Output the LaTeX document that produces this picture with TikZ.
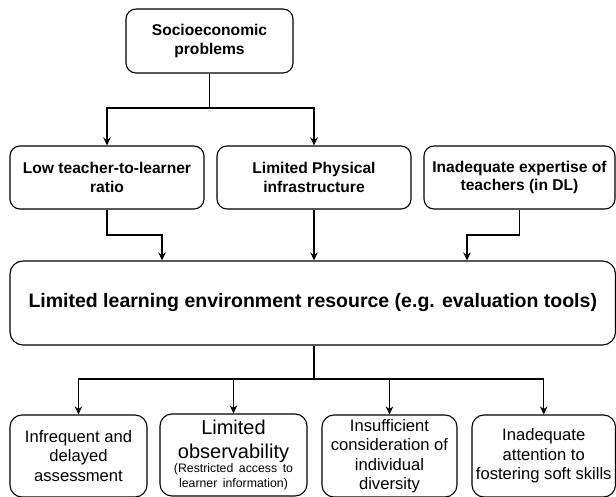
\documentclass[tikz,border=0pt]{standalone}
\usepackage{fontspec}
\setmainfont{Liberation Sans}
\usetikzlibrary{arrows.meta}
\begin{document}
\begin{tikzpicture}[x=1pt,y=-1pt,
  box/.style={draw, line width=1.1pt, rounded corners=10pt, inner sep=0pt, align=center},
  hd/.style={box, font=\bfseries\fontsize{15.6}{18.5}\selectfont, minimum height=63pt},
  lf/.style={box, rounded corners=12pt, font=\fontsize{16.6}{19.5}\selectfont, minimum height=82pt},
  arr/.style={line width=1.1pt, -{Stealth[length=8pt,width=7.5pt,inset=2.5pt]}},
  ln/.style={line width=1.1pt}]
\useasboundingbox (0,0) rectangle (616,497);

\node[hd, minimum width=167pt, minimum height=64pt] (soc) at (209.5,41) {Socioeconomic\\problems};

\node[hd, minimum width=194pt] (r1) at (107,177.5) {Low teacher-to-learner\\ratio};
\node[hd, minimum width=194pt] (r2) at (314,177.5) {Limited Physical\\infrastructure};
\node[hd, minimum width=191pt] (r3) at (519.5,177.5) {Inadequate expertise of\\teachers (in DL)};

\node[box, rounded corners=13pt, minimum width=605.5pt, minimum height=84pt, font=\bfseries\fontsize{19.5}{23}\selectfont] (big) at (312.75,303) {Limited learning environment resource (e.g. evaluation tools)};

\node[lf, minimum width=137pt] (b1) at (78.5,456) {Infrequent and\\delayed\\assessment};
\node[lf, minimum width=147pt, text width=143pt] (b2) at (233.5,455) {{\centering\fontsize{20}{24}\selectfont Limited\\observability\par}{\centering\fontsize{12.3}{14.5}\selectfont (Restricted access to\\learner information)\par}};
\node[lf, minimum width=135pt] (b3) at (389.5,456) {Insufficient\\consideration of\\individual\\diversity};
\node[lf, minimum width=143.5pt] (b4) at (543.75,456) {Inadequate\\attention to\\fostering soft skills};

\coordinate (j1) at (209.5,108);
\draw[ln] (soc.south) -- (j1);
\draw[arr] (j1) -| (r1.north);
\draw[arr] (j1) -| (r2.north);

\coordinate (c1) at (162,235);
\coordinate (c3) at (467,235);
\draw[arr] (r1.south) |- (c1) -- (c1 |- big.north);
\draw[arr] (r2.south) -- (r2.south |- big.north);
\draw[arr] (r3.south) |- (c3) -- (c3 |- big.north);

\coordinate (j2) at (314,379);
\draw[line width=1.8pt] (big.south -| j2) -- (j2);
\draw[arr] (j2) -| (b1.north);
\draw[arr] (j2) -| (b2.north);
\draw[arr] (j2) -| (b3.north);
\draw[arr] (j2) -| (b4.north);
\end{tikzpicture}
\end{document}
